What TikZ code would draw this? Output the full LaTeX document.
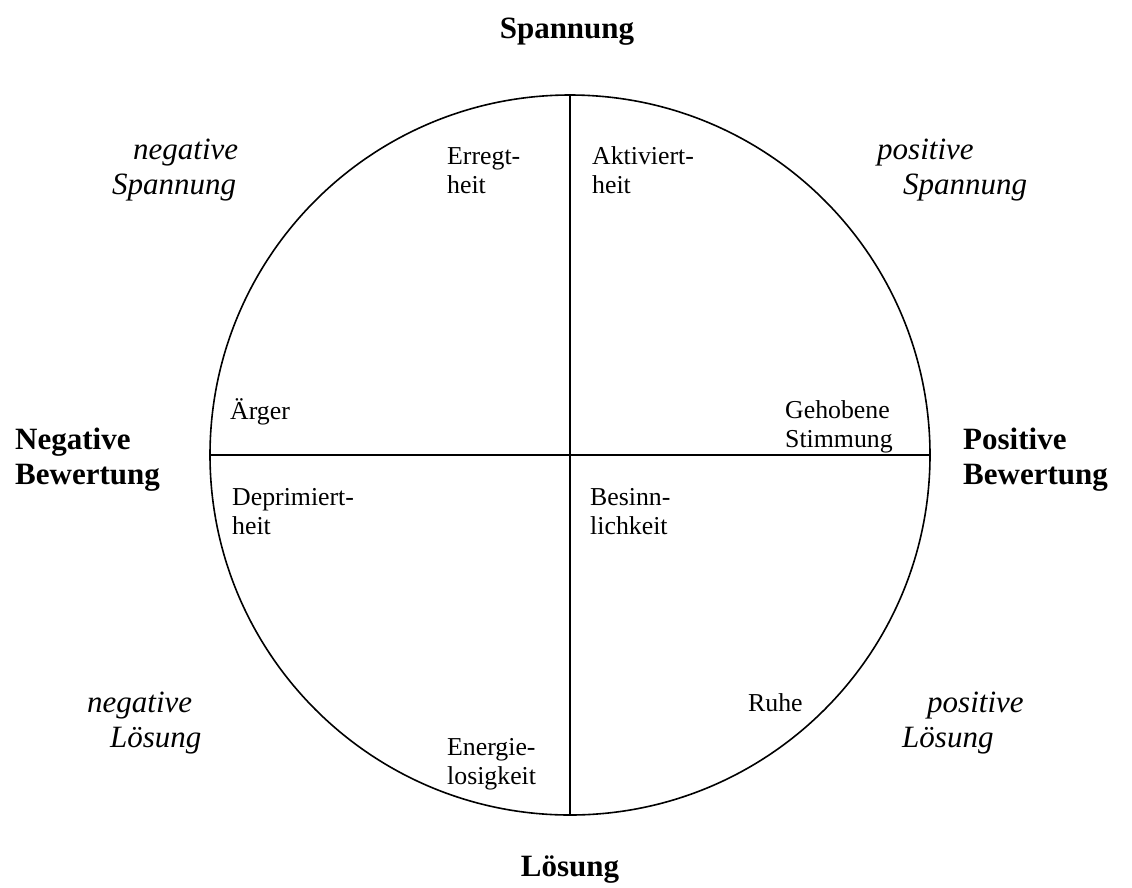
\documentclass[tikz,border=0pt]{standalone}
\usepackage{fontspec}
\setmainfont{Liberation Serif}
\begin{document}
\begin{tikzpicture}[x=1pt,y=-1pt,
  axis/.style={font=\fontsize{31}{35.6}\selectfont\bfseries, anchor=base west, inner sep=0pt},
  quad/.style={font=\fontsize{31}{35.6}\selectfont\itshape, anchor=base west, inner sep=0pt},
  emo/.style={font=\fontsize{25.8}{29.7}\selectfont, anchor=base west, inner sep=0pt},
  ring/.style={circle, draw, line width=1.6pt, inner sep=0pt, minimum size=720pt},
  divider/.style={line width=1.6pt}]
\useasboundingbox (0,0) rectangle (1132,887);
\node[ring] (c) at (570,455) {};
\draw[divider] (c.north) -- (c.south);
\draw[divider] (c.west) -- (c.east);
% axes
\node[axis, anchor=base] (top) at (567,38) {Spannung};
\node[axis, anchor=base] (bottom) at (570,876) {Lösung};
\node[axis] (left) at (15,449) {\begin{tabular}[t]{@{}l@{}}Negative\\Bewertung\end{tabular}};
\node[axis] (right) at (963,449) {\begin{tabular}[t]{@{}l@{}}Positive\\Bewertung\end{tabular}};
% quadrant labels
\node[quad] (nsp) at (112,159) {\begin{tabular}[t]{@{}l@{}}\hspace*{21pt}negative\\Spannung\end{tabular}};
\node[quad] (psp) at (877,159) {\begin{tabular}[t]{@{}l@{}}positive\\\hspace*{26pt}Spannung\end{tabular}};
\node[quad] (nl) at (87,712) {\begin{tabular}[t]{@{}l@{}}negative\\\hspace*{23pt}Lösung\end{tabular}};
\node[quad] (pl) at (902,712) {\begin{tabular}[t]{@{}l@{}}\hspace*{25pt}positive\\Lösung\end{tabular}};
% emotions
\node[emo] (erreg) at (447,164) {\begin{tabular}[t]{@{}l@{}}Erregt-\\heit\end{tabular}};
\node[emo] (aktiv) at (592,164) {\begin{tabular}[t]{@{}l@{}}Aktiviert-\\heit\end{tabular}};
\node[emo] (aerger) at (230,419) {Ärger};
\node[emo] (gehob) at (785,418) {\begin{tabular}[t]{@{}l@{}}Gehobene\\Stimmung\end{tabular}};
\node[emo] (depri) at (232,505) {\begin{tabular}[t]{@{}l@{}}Deprimiert-\\heit\end{tabular}};
\node[emo] (besinn) at (590,505) {\begin{tabular}[t]{@{}l@{}}Besinn-\\lichkeit\end{tabular}};
\node[emo] (ruhe) at (748,711) {Ruhe};
\node[emo] (energ) at (447,755) {\begin{tabular}[t]{@{}l@{}}Energie-\\losigkeit\end{tabular}};
\end{tikzpicture}
\end{document}
